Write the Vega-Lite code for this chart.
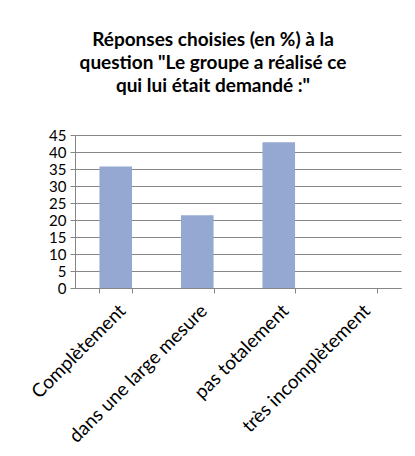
{
  "$schema": "https://vega.github.io/schema/vega-lite/v6.json",
  "autosize": "none",
  "width": 326,
  "height": 153,
  "padding": {"left": 75, "top": 135, "right": 14, "bottom": 168},
  "background": "white",
  "title": {
    "text": ["Réponses choisies (en %) à la", "question \"Le groupe a réalisé  ce", "qui lui était demandé :\""],
    "font": "Lato",
    "fontSize": 19,
    "fontWeight": "bold",
    "color": "black",
    "lineHeight": 23,
    "anchor": "middle",
    "frame": "group",
    "dx": -25,
    "offset": 32
  },
  "data": {
    "values": [
      {"reponse": "Complètement", "pct": 35.7},
      {"reponse": "dans une large mesure", "pct": 21.4},
      {"reponse": "pas totalement", "pct": 42.9},
      {"reponse": "très incomplètement", "pct": 0}
    ]
  },
  "mark": {"type": "bar", "color": "#94a8d2"},
  "encoding": {
    "x": {
      "field": "reponse",
      "type": "nominal",
      "sort": null,
      "scale": {"paddingInner": 0.6, "paddingOuter": 0.3},
      "axis": {
        "title": null,
        "labelAngle": -45,
        "labelFont": "Lato",
        "labelFontSize": 19,
        "labelColor": "black",
        "labelOverlap": false,
        "labelLimit": 400,
        "domainColor": "#868686",
        "tickColor": "#868686",
        "tickBand": "extent",
        "tickSize": 5,
        "labelPadding": 8,
        "grid": false
      }
    },
    "y": {
      "field": "pct",
      "type": "quantitative",
      "scale": {"domain": [0, 45], "nice": false},
      "axis": {
        "title": null,
        "values": [0, 5, 10, 15, 20, 25, 30, 35, 40, 45],
        "labelFont": "Lato",
        "labelFontSize": 15,
        "labelColor": "black",
        "labelOverlap": false,
        "domainColor": "#868686",
        "tickColor": "#868686",
        "gridColor": "#868686",
        "tickSize": 5,
        "labelPadding": 4
      }
    }
  },
  "config": {"view": {"stroke": null}}
}
